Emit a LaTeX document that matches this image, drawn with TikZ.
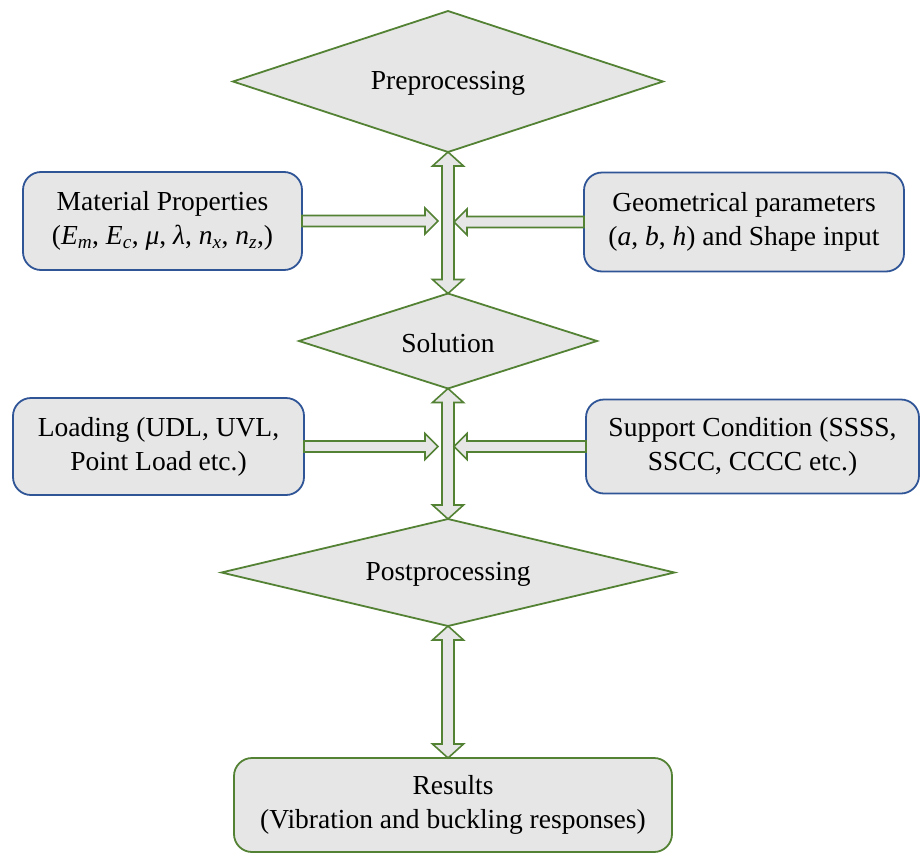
\documentclass[tikz,border=0pt]{standalone}
\usepackage{fontspec}
\setmainfont{Liberation Serif}
\usetikzlibrary{calc}
\definecolor{bgreen}{RGB}{84,130,53}
\definecolor{bblue}{RGB}{47,85,151}
\definecolor{bfill}{RGB}{230,230,230}
\newcommand\isub[2]{\textit{#1}\textsubscript{\textit{#2}}}
% horizontal block arrow: #1 start, #2 tip, #3 signed head length
\newcommand\hblock[3]{%
  \draw[blockarrow] ($(#1)+(0,5.5)$) -- ($(#2|-#1)-(#3,-5.5)$) -- ($(#2|-#1)-(#3,-13)$)
    -- (#2|-#1) -- ($(#2|-#1)-(#3,13)$) -- ($(#2|-#1)-(#3,5.5)$) -- ($(#1)+(0,-5.5)$) -- cycle;}
% vertical double block arrow: #1 top tip, #2 bottom tip
\newcommand\vblock[2]{%
  \draw[blockarrow] (#1) -- ($(#1)+(15.5,14)$) -- ($(#1)+(6,14)$) -- ($(#2)+(6,-14)$)
    -- ($(#2)+(15.5,-14)$) -- (#2) -- ($(#2)+(-15.5,-14)$) -- ($(#2)+(-6,-14)$)
    -- ($(#1)+(-6,14)$) -- ($(#1)+(-15.5,14)$) -- cycle;}
% diamond drawn through the anchors of a rectangular node
\newcommand\rhomb[1]{%
  \draw[decision] (#1.north) -- (#1.east) -- (#1.south) -- (#1.west) -- cycle;}
\begin{document}
\begin{tikzpicture}[x=1pt,y=-1pt,
  every node/.style={font=\fontsize{27.5}{34}\selectfont, align=center, outer sep=0pt, inner sep=0pt},
  decision/.style={draw=bgreen, fill=bfill, line width=1.8pt, line join=miter},
  dnode/.style={rectangle},
  dtext/.style={yshift=-2pt},
  bluebox/.style={rectangle, rounded corners=18pt, draw=bblue, fill=bfill, line width=1.8pt},
  greenbox/.style={rectangle, rounded corners=18pt, draw=bgreen, fill=bfill, line width=1.8pt},
  blockarrow/.style={draw=bgreen, fill=bfill, line width=1.6pt, line join=miter}]
\useasboundingbox (0,0) rectangle (921,854);

% diamond frames (named nodes give the anchors)
\node[dnode, minimum width=430pt, minimum height=141pt] (pre) at (448,81.5) {};
\node[dnode, minimum width=298pt, minimum height=95pt] (sol) at (448,341) {};
\node[dnode, minimum width=453pt, minimum height=107pt] (post) at (448,572.5) {};
\rhomb{pre}
\rhomb{sol}
\rhomb{post}
\node[dtext] (pretext) at (pre) {Preprocessing};
\node[dtext] (soltext) at (sol) {Solution};
\node[dtext] (posttext) at (post) {Postprocessing};

\node[bluebox, minimum width=279pt, minimum height=98pt] (mat) at (162.5,221)
  {Material Properties\\(\isub{E}{m}, \isub{E}{c}, \textit{μ}, \textit{λ}, \isub{n}{x}, \isub{n}{z},)};
\node[bluebox, minimum width=320pt, minimum height=99pt] (geo) at (744,222)
  {Geometrical parameters\\(\textit{a}, \textit{b}, \textit{h}) and Shape input};
\node[bluebox, minimum width=291pt, minimum height=97pt] (load) at (158.5,446.5)
  {Loading (UDL, UVL,\\Point Load etc.)};
\node[bluebox, minimum width=333pt, minimum height=94pt] (sup) at (752.5,446.5)
  {Support Condition (SSSS,\\SSCC, CCCC etc.)};
\node[greenbox, minimum width=438pt, minimum height=94pt] (res) at (453,805)
  {Results\\(Vibration and buckling responses)};

\coordinate (t1) at (438,221);
\coordinate (t2) at (454,221);
\coordinate (t3) at (438,446);
\coordinate (t4) at (454,446);
\coordinate (rtop) at (post.south |- res.north);

\vblock{pre.south}{sol.north}
\vblock{sol.south}{post.north}
\vblock{post.south}{rtop}

\hblock{mat.east}{t1}{13}
\hblock{geo.west}{t2}{-13}
\hblock{load.east}{t3}{13}
\hblock{sup.west}{t4}{-13}
\end{tikzpicture}
\end{document}
